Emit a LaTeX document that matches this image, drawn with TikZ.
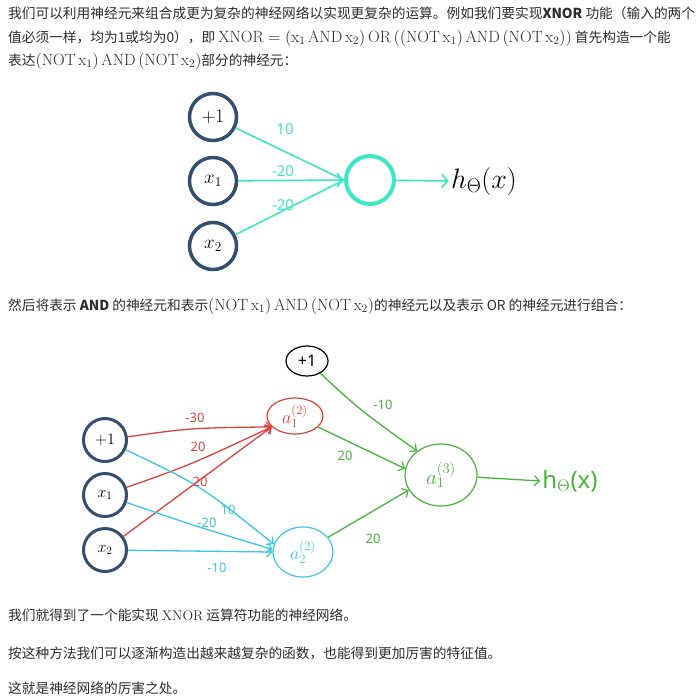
\RequirePackage{fix-cm}
\documentclass[tikz,border=0pt]{standalone}
\usepackage{fontspec}
\newfontfamily\cjk{Noto Sans CJK SC}
\newfontfamily\hand{Noto Sans}
\usetikzlibrary{arrows.meta,shapes.geometric}
\definecolor{inblue}{RGB}{52,78,112}
\definecolor{tealc}{RGB}{62,230,200}
\definecolor{hred}{RGB}{222,68,62}
\definecolor{hcyan}{RGB}{58,200,228}
\definecolor{hgreen}{RGB}{72,180,62}
\definecolor{txt}{RGB}{45,45,45}
\tikzset{
  para/.style={anchor=base west, inner sep=0pt, text=txt, font=\fontsize{13.7}{16}\cjk},
  inA/.style={circle, draw=inblue, line width=3.5pt, minimum size=47pt, inner sep=0pt, font=\fontsize{19}{21}\selectfont},
  inB/.style={circle, draw=inblue, line width=3pt, minimum size=43pt, inner sep=0pt, font=\fontsize{16}{18}\selectfont},
  outA/.style={circle, draw=tealc, line width=4pt, minimum size=48pt, inner sep=0pt},
  tealedge/.style={draw=tealc, line width=1.6pt},
  ttip/.style={-{Straight Barb[length=6pt,width=13pt,line width=1.6pt]}},
  tlabel/.style={text=tealc, font=\fontsize{15}{17}\hand, inner sep=0pt},
  hnode/.style={ellipse, line width=1.2pt, inner sep=0pt},
  hedge/.style={line width=1.3pt},
  htip/.style={-{Straight Barb[length=5pt,width=10pt,line width=1.2pt]}},
  hlabel/.style={font=\fontsize{13}{15}\hand, inner sep=0pt},
  mth/.style={},
}
\newcommand{\mrm}[1]{\mathrm{#1}}
\newcommand{\km}[1]{{\fontsize{16.3}{18}\selectfont$#1$}}
\begin{document}
\begin{tikzpicture}[x=1pt,y=-1pt]
\useasboundingbox[fill=white] (0,0) rectangle (698,697);

% ---------- paragraph text ----------
\node[para] (t1) at (8,18) {我们可以利用神经元来组合成更为复杂的神经网络以实现更复杂的运算。例如我们要实现\textbf{XNOR} 功能（输入的两个};
\node[para] (t2) at (8,42) {值必须一样，均为1或均为0），即 \km{\mrm{XNOR}=(\mrm{x}_1\,\mrm{AND}\,\mrm{x}_2)\,\mrm{OR}\,((\mrm{NOT}\,\mrm{x}_1)\,\mrm{AND}\,(\mrm{NOT}\,\mrm{x}_2))} 首先构造一个能};
\node[para] (t3) at (8,65) {表达\km{(\mrm{NOT}\,\mrm{x}_1)\,\mrm{AND}\,(\mrm{NOT}\,\mrm{x}_2)}部分的神经元：};
\node[para] (t4) at (8,310) {然后将表示 \textbf{AND} 的神经元和表示\km{(\mrm{NOT}\,\mrm{x}_1)\,\mrm{AND}\,(\mrm{NOT}\,\mrm{x}_2)}的神经元以及表示 OR 的神经元进行组合：};
\node[para] (t5) at (8,620) {我们就得到了一个能实现 {\fontsize{14}{16}\rmfamily XNOR} 运算符功能的神经网络。};
\node[para] (t6) at (8,658) {按这种方法我们可以逐渐构造出越来越复杂的函数，也能得到更加厉害的特征值。};
\node[para] (t7) at (8,693) {这就是神经网络的厉害之处。};

% ---------- diagram 1 ----------
\node[inA] (p1) at (213,117) {$+1$};
\node[inA] (q1) at (213,181) {$x_1$};
\node[inA] (r1) at (213,246) {$x_2$};
\node[outA] (o1) at (370,180) {};
\node[inner sep=2pt, font=\fontsize{28}{30}\selectfont] (hA) at (484,181) {$h_{\Theta}(x)$};
\draw[tealedge] (p1) -- (o1.west);
\draw[tealedge,ttip] (q1) -- (o1.west);
\draw[tealedge] (r1) -- (o1.west);
\draw[tealedge,ttip] (o1) -- (hA.west);
\node[tlabel] (w1) at (285,129) {10};
\node[tlabel] (w2) at (283,171) {-20};
\node[tlabel] (w3) at (283,205) {-20};

% ---------- diagram 2 ----------
\node[inB] (i1) at (105,440) {$+1$};
\node[inB] (i2) at (105,495) {$x_1$};
\node[inB] (i3) at (105,550) {$x_2$};
\node[hnode, draw=black, minimum width=42pt, minimum height=30pt, font=\fontsize{16}{18}\hand\bfseries] (b1) at (307,361) {+1};
\node[hnode, draw=hred, text=hred, minimum width=56pt, minimum height=36pt, font=\fontsize{18}{20}\selectfont] (a1) at (295,416) {$a^{(2)}_1$};
\node[hnode, draw=hcyan, text=hcyan, minimum width=60pt, minimum height=50pt, font=\fontsize{18}{20}\selectfont] (a2) at (303,552) {$a^{(2)}_2$};
\node[hnode, draw=hgreen, text=hgreen, minimum width=72pt, minimum height=62pt, font=\fontsize{21}{23}\selectfont] (a3) at (441,475) {$a^{(3)}_1$};
\node[text=hgreen, inner sep=2pt, font=\fontsize{24}{26}\hand] (hB) at (570,481) {h$_{\Theta}$(x)};

% red edges
\draw[hedge, hred, htip] (i1) .. controls (190,428) .. (a1.205);
\draw[hedge, hred, htip] (i2) .. controls (190,465) .. (a1.205);
\draw[hedge, hred, htip] (i3) -- (a1.205);
% cyan edges
\draw[hedge, hcyan, htip] (i1) .. controls (200,485) .. (a2.165);
\draw[hedge, hcyan, htip] (i2) .. controls (195,526) .. (a2.175);
\draw[hedge, hcyan, htip] (i3) -- (a2.west);
% green edges
\draw[hedge, hgreen, htip] (b1) .. controls (360,410) .. (a3.135);
\draw[hedge, hgreen, htip] (a1) -- (a3.170);
\draw[hedge, hgreen, htip] (a2) -- (a3.205);
\draw[hedge, hgreen, htip] (a3) -- (hB.west);

% weights
\node[hlabel, text=hred] (r30) at (195,418) {-30};
\node[hlabel, text=hred] (r20a) at (198,447) {20};
\node[hlabel, text=hred] (r20b) at (200,482) {20};
\node[hlabel, text=hcyan] (c10) at (228,510) {10};
\node[hlabel, text=hcyan] (c20) at (207,523) {-20};
\node[hlabel, text=hcyan] (c10b) at (217,568) {-10};
\node[hlabel, text=hgreen] (g10) at (383,405) {-10};
\node[hlabel, text=hgreen] (g20a) at (345,456) {20};
\node[hlabel, text=hgreen] (g20b) at (373,539) {20};
\end{tikzpicture}
\end{document}
